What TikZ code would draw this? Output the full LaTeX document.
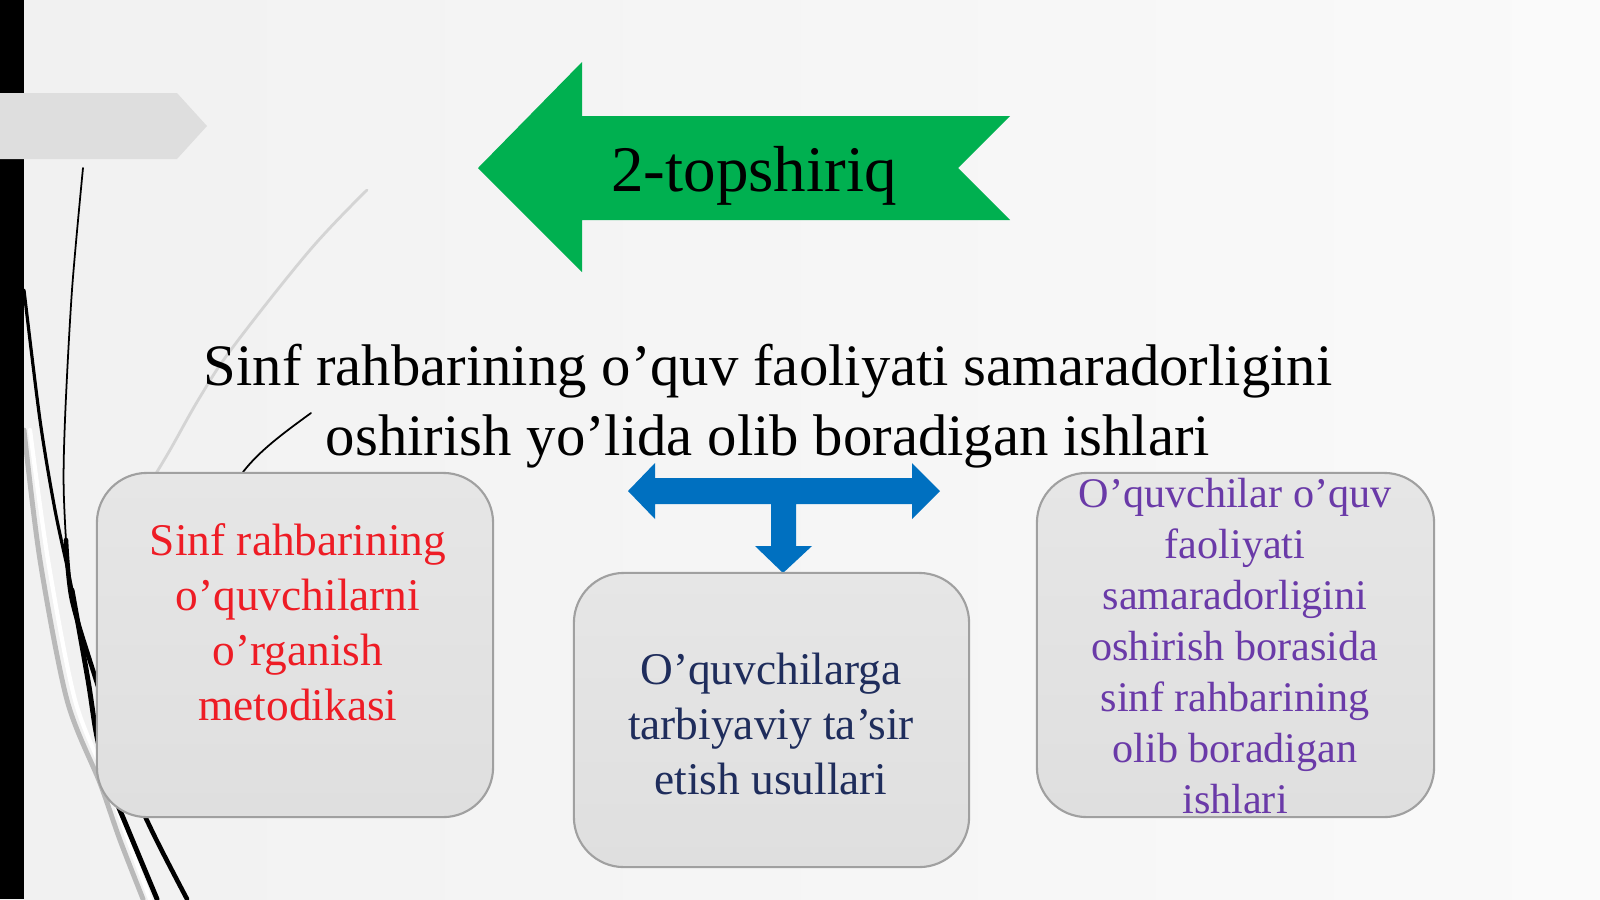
\documentclass[tikz,border=0pt]{standalone}
\usepackage{fontspec}
\setmainfont{Liberation Serif}
\definecolor{bgl}{HTML}{F1F1F1}
\definecolor{bgr}{HTML}{FAFAFA}
\definecolor{pgray}{HTML}{DEDEDE}
\definecolor{boxfill}{HTML}{DFDFDF}
\definecolor{boxtop}{HTML}{E6E6E6}
\definecolor{boxline}{HTML}{A0A0A0}
\definecolor{arrgreen}{HTML}{00B050}
\definecolor{arrblue}{HTML}{0070C0}
\definecolor{txtred}{HTML}{EE1C25}
\definecolor{txtnavy}{HTML}{1F2D5C}
\definecolor{txtpurple}{HTML}{6A3AA8}
\definecolor{arcgray}{HTML}{D4D4D4}
\tikzset{
  roundbox/.style={draw=boxline, line width=0.6pt, top color=boxtop, bottom color=boxfill, rounded corners=0.5cm, inner sep=0pt},
  boxtxt/.style={align=center, inner sep=0pt, font=\fontsize{12.9}{15.6}\selectfont},
  boxtxtsmall/.style={align=center, inner sep=0pt, font=\fontsize{12}{14.5}\selectfont},
  wisp/.style={line cap=round},
}
\begin{document}
\begin{tikzpicture}[x=0.01cm,y=-0.01cm]
\useasboundingbox (0,0) rectangle (1600,899);
\shade[left color=bgl, right color=bgr] (0,0) rectangle (1600,899);

% decorative theme lines
\draw[arcgray, line width=0.8pt, wisp] plot[smooth, tension=0.6] coordinates {(367,190) (310,250) (233,347) (200,397) (170,450) (152,480)};
\draw[gray!55, line width=1.4pt, wisp] plot[smooth] coordinates {(24,430) (40,560) (67,700) (100,783) (120,840) (143,899)};
\draw[white, line width=1.2pt, wisp] plot[smooth] coordinates {(30,430) (48,560) (75,700) (108,783) (128,840) (150,899)};
\draw[black, line width=0.5pt, wisp] plot[smooth] coordinates {(83,168) (72,290) (65,420) (64,500) (72,600) (97,683) (125,770) (153,833) (187,899)};
\draw[black, line width=1.3pt, wisp] plot[smooth] coordinates {(66,540) (72,600) (97,683) (125,770) (153,833) (187,899)};
\draw[black, line width=0.9pt, wisp] plot[smooth] coordinates {(24,290) (40,420) (55,510) (72,590) (88,680) (97,737) (110,785) (127,827) (157,899)};
\draw[black, line width=1.4pt, wisp] plot[smooth] coordinates {(72,590) (88,680) (97,737) (110,785) (127,827) (157,899)};
\draw[black, line width=0.5pt, wisp] (311,413) .. controls (285,432) and (260,450) .. (243,472);

% left bar and tab
\fill[black] (0,0) rectangle (24,899);
\fill[pgray] (0,93) -- (177,93) -- (207,126) -- (177,159) -- (0,159) -- cycle;

% green arrow
\fill[arrgreen] (478,168) -- (582,62) -- (582,116) -- (1010,116) -- (958,168) -- (1010,220) -- (582,220) -- (582,272) -- cycle;
\node[font=\fontsize{18.5}{22}\selectfont, inner sep=0pt] (task) at (754,176) {2-topshiriq};

% main heading
\node[align=center, inner sep=0pt, font=\fontsize{16.7}{19.9}\selectfont] (title) at (768,406)
  {Sinf rahbarining o’quv faoliyati samaradorligini\\oshirish yo’lida olib boradigan ishlari};

% blue arrow
\fill[arrblue] (628,491) -- (655,463) -- (655,478) -- (912,478) -- (912,463) -- (940,491) -- (912,519) -- (912,504)
  -- (796,504) -- (796,546) -- (812,546) -- (783,573) -- (755,546) -- (771,546) -- (771,504) -- (655,504) -- (655,519) -- cycle;

% boxes
\node[roundbox, minimum width=3.96cm, minimum height=3.44cm] (boxL) at (295,645) {};
\node[roundbox, minimum width=3.95cm, minimum height=2.94cm] (boxM) at (771.5,720) {};
\node[roundbox, minimum width=3.97cm, minimum height=3.44cm] (boxR) at (1235.5,645) {};

\node[boxtxt, text=txtred] (txtL) at (298,622) {Sinf rahbarining\\o’quvchilarni\\o’rganish\\metodikasi};
\node[boxtxt, text=txtnavy] (txtM) at (771,724) {O’quvchilarga\\tarbiyaviy ta’sir\\etish usullari};
\node[boxtxtsmall, text=txtpurple] (txtR) at (1235,646) {O’quvchilar o’quv\\faoliyati\\samaradorligini\\oshirish borasida\\sinf rahbarining\\olib boradigan\\ishlari};
\end{tikzpicture}
\end{document}
